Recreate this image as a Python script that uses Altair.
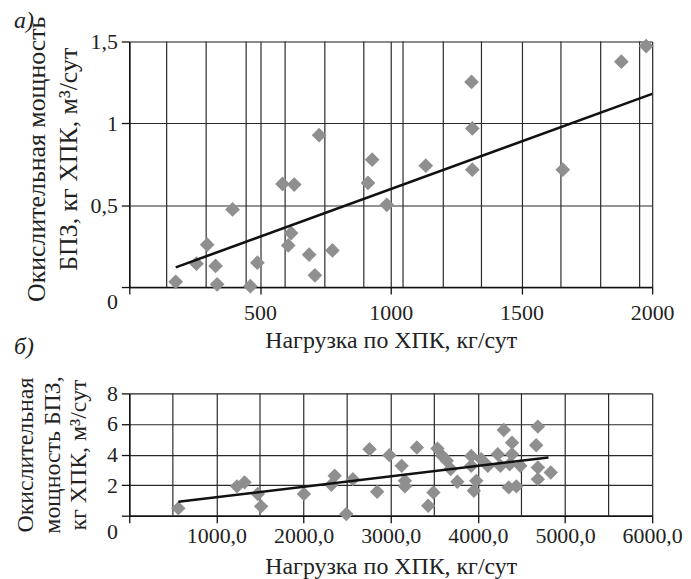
import altair as alt
import pandas as pd

# ---------- panel а) ----------
a_x = [177.6, 257, 298, 330, 336, 395, 463, 490, 586, 631, 619, 608, 688, 710, 726, 777,
       913, 929, 985, 1134, 1309, 1312, 1312, 1658, 1882, 1977]
a_y = [0.032, 0.143, 0.259, 0.129, 0.017, 0.474, 0.005, 0.149, 0.63, 0.626, 0.33, 0.254,
       0.198, 0.072, 0.928, 0.224, 0.636, 0.778, 0.502, 0.741, 1.253, 0.969, 0.717, 0.717,
       1.377, 1.472]
a_trend_x = [177.5, 2000]
a_trend_y = [0.12, 1.18]
a_ticks_x = [0, 500, 1000, 1500, 2000]
a_grid_x = [143, 294, 447, 596, 748, 897, 1047, 1201, 1347, 1651, 1803, 1952]
a_ticks_y = [0, 0.5, 1, 1.5]

# ---------- panel б) ----------
b_x = [563, 1236, 1323, 1475, 1513, 2004, 2357, 2319, 2490, 2566, 2757, 2844, 2985, 3125,
       3163, 3163, 3300, 3430, 3490, 3536, 3593, 3643, 3688, 3764, 3924, 3924, 3954, 3981,
       4038, 4114, 4228, 4258, 4297, 4392, 4392, 4365, 4354, 4441, 4487, 4688, 4669, 4688,
       4688, 4836]
b_y = [0.48, 1.92, 2.18, 1.42, 0.61, 1.42, 2.61, 2.02, 0.11, 2.39, 4.35, 1.57, 3.96, 3.26,
       2.28, 1.92, 4.46, 0.65, 1.52, 4.39, 3.91, 3.59, 3.05, 2.22, 3.91, 3.26, 1.63, 2.28,
       3.70, 3.26, 4.02, 3.26, 5.61, 4.78, 4.02, 3.37, 1.85, 1.92, 3.26, 5.83, 4.61, 3.15,
       2.39, 2.83]
b_trend_x = [563, 4810]
b_trend_y = [0.91, 3.81]
b_ticks_x = [0, 1000, 2000, 3000, 4000, 5000, 6000]
b_grid_x = [500, 1500, 2500, 3500, 4500, 5500]
b_ticks_y = [0, 2, 4, 6, 8]

FONT = "Liberation Serif"
GRID = "#2a2a2a"
PT = "#8f8f8f"

def axis_common(**kw):
    base = dict(
        grid=True, gridColor=GRID, gridWidth=1.2, gridOpacity=1,
        domainColor="#111", domainWidth=1.4,
        tickColor="#111", tickWidth=1.3,
        labelFont=FONT, labelFontSize=22, labelColor="#222",
        labelOverlap=False, labelFlush=False, labelBound=False,
        titleFont=FONT, titleFontSize=24, titleFontWeight="normal", titleColor="#222",
    )
    base.update(kw)
    return alt.Axis(**base)

def panel(px, py, tx, ty, gx, xdom, ydom, w, h, xaxis, yaxis, title, size):
    pts = pd.DataFrame({"x": px, "y": py})
    trend = pd.DataFrame({"x": tx, "y": ty})
    grid = pd.DataFrame({"x": gx})
    X = alt.X("x:Q", scale=alt.Scale(domain=xdom, nice=False, zero=False), axis=xaxis)
    Y = alt.Y("y:Q", scale=alt.Scale(domain=ydom, nice=False), axis=yaxis)
    g = alt.Chart(grid).mark_rule(color=GRID, strokeWidth=1.2).encode(x=X)
    line = alt.Chart(trend).mark_line(color="#111", strokeWidth=2.6).encode(x=X, y=Y)
    dots = alt.Chart(pts).mark_point(shape="diamond", filled=True, color=PT, size=size,
                                     opacity=1).encode(x=X, y=Y)
    return alt.layer(g, dots, line).properties(width=w, height=h, title=title)

a_xaxis = axis_common(values=a_ticks_x, tickSize=7, labelPadding=9,
                      labelExpr="datum.value == 0 ? '' : toString(datum.value)",
                      title="Нагрузка по ХПК, кг/сут", titlePadding=5)
a_yaxis = axis_common(values=a_ticks_y, tickSize=8, labelPadding=4,
                      labelExpr="replace(toString(datum.value), '.', ',')",
                      labelOffset={"condition": {"test": "datum.value == 0", "value": 15}, "value": 0},
                      title=["Окислительная мощность", "БПЗ, кг ХПК, м³/сут"], titleFontSize=26,
                      titleX=-93, titleY=118, titleBaseline="middle", titleLineHeight=32)

b_xaxis = axis_common(values=b_ticks_x, tickSize=7, labelPadding=3,
                      labelExpr="datum.value == 0 ? '' : replace(format(datum.value, '.1f'), '.', ',')",
                      title="Нагрузка по ХПК, кг/сут", titlePadding=8)
b_yaxis = axis_common(values=b_ticks_y, tickSize=8, labelPadding=4,
                      labelOffset={"condition": {"test": "datum.value == 0", "value": 16}, "value": 0},
                      title=["Окислительная", "мощность БПЗ,", "кг ХПК, м³/сут"],
                      titleX=-104, titleBaseline="middle", titleLineHeight=26.5)

def ptitle(t, off):
    return alt.TitleParams(t, anchor="start", frame="group", font=FONT, fontStyle="italic",
                           fontSize=24, fontWeight="normal", color="#222", dx=-116, offset=off)

chart_a = panel(a_x, a_y, a_trend_x, a_trend_y, a_grid_x,
                [0, 2000], [0, 1.5], 526, 247, a_xaxis, a_yaxis, ptitle("а)", -17), 220)
chart_b = panel(b_x, b_y, b_trend_x, b_trend_y, b_grid_x,
                [0, 6000], [0, 8], 526, 123, b_xaxis, b_yaxis, ptitle("б)", 17), 210)

chart = alt.vconcat(chart_a, chart_b, spacing=107, bounds="flush").properties(
    padding={"left": 5, "top": -2, "right": 0, "bottom": 0}
).configure_view(stroke=None).configure(background="white")

chart.save("out.html", embed_options={"renderer": "svg", "actions": False})
